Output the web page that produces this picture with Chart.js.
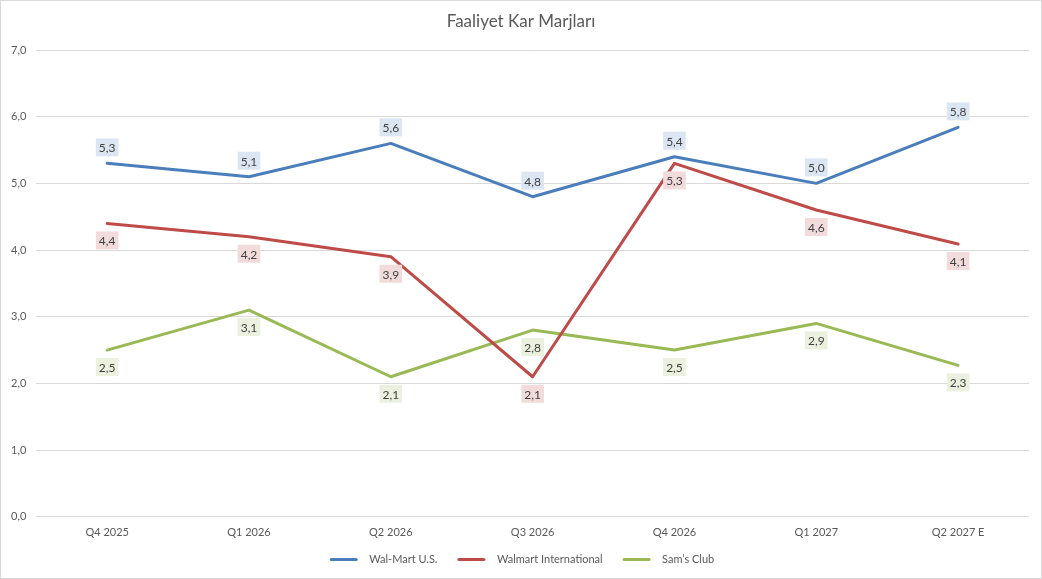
<!DOCTYPE html>
<html>
<head>
<meta charset="utf-8">
<script src="https://cdn.jsdelivr.net/npm/chart.js@4"></script>
<style>
  html, body { margin: 0; padding: 0; background: #fff; }
  #wrap { width: 1040px; height: 577px; border: 1px solid #d9d9d9; position: relative; }
</style>
</head>
<body>
<div id="wrap"><canvas id="chart1"></canvas></div>
<script>
var categories = ['Q4 2025', 'Q1 2026', 'Q2 2026', 'Q3 2026', 'Q4 2026', 'Q1 2027', 'Q2 2027 E'];
var walmartUS = [5.3, 5.1, 5.6, 4.8, 5.4, 5.0, 5.84];
var walmartIntl = [4.4, 4.2, 3.9, 2.1, 5.3, 4.6, 4.09];
var samsClub = [2.5, 3.1, 2.1, 2.8, 2.5, 2.9, 2.27];
var yTicks = [0, 1, 2, 3, 4, 5, 6, 7];
var chartTitle = 'Faaliyet Kar Marjları';

var FONT = 'Lato, "Open Sans", sans-serif';

function comma(v) {
    return v.toFixed(1).replace('.', ',');
}

// title centred on the whole canvas, not on the padded layout box
var centerTitle = {
    id: 'centerTitle',
    afterDraw: function(chart) {
        var ctx = chart.ctx;
        ctx.save();
        ctx.font = '17px ' + FONT;
        ctx.fillStyle = '#595959';
        ctx.textAlign = 'center';
        ctx.textBaseline = 'middle';
        ctx.fillText(chartTitle, chart.width / 2, 21);
        ctx.restore();
    }
};

// value boxes next to each point (above for the first series, below for the rest)
var pointLabels = {
    id: 'pointLabels',
    afterDatasetsDraw: function(chart) {
        var ctx = chart.ctx;
        ctx.save();
        ctx.font = '12px ' + FONT;
        ctx.textAlign = 'center';
        ctx.textBaseline = 'middle';
        chart.data.datasets.forEach(function(ds, i) {
            var meta = chart.getDatasetMeta(i);
            meta.data.forEach(function(pt, j) {
                var text = comma(ds.data[j]);
                var w = ctx.measureText(text).width + 6;
                var h = 18;
                var cy = ds.labelPos === 'above' ? pt.y - 16 : pt.y + 17;
                ctx.fillStyle = ds.labelBg;
                ctx.fillRect(pt.x - w / 2, cy - h / 2, w, h);
                ctx.fillStyle = '#404040';
                ctx.fillText(text, pt.x, cy + 1);
            });
        });
        ctx.restore();
    }
};

// legend swatches: the legend box is left empty and a short line is drawn inside it
var SWATCH_PAD = 14;
var SWATCH_LEN = 28;
var legendLines = {
    id: 'legendLines',
    afterDraw: function(chart) {
        var ctx = chart.ctx;
        var boxes = chart.legend.legendHitBoxes;
        ctx.save();
        ctx.lineWidth = 3;
        ctx.lineCap = 'round';
        chart.data.datasets.forEach(function(ds, i) {
            var hb = boxes[i];
            if (!hb) return;
            var y = hb.top + hb.height / 2;
            ctx.strokeStyle = ds.borderColor;
            ctx.beginPath();
            ctx.moveTo(hb.left + SWATCH_PAD + 1.5, y);
            ctx.lineTo(hb.left + SWATCH_PAD + SWATCH_LEN - 1.5, y);
            ctx.stroke();
        });
        ctx.restore();
    }
};

var ctx1 = document.getElementById('chart1').getContext('2d');
var chart1 = new Chart(ctx1, {
    type: 'line',
    data: {
        labels: categories,
        datasets: [{
            label: 'Wal-Mart U.S.',
            data: walmartUS,
            borderColor: '#4a7ebb',
            backgroundColor: '#4a7ebb',
            labelBg: '#dce6f2',
            labelPos: 'above'
        },
        {
            label: 'Walmart International',
            data: walmartIntl,
            borderColor: '#be4b48',
            backgroundColor: '#be4b48',
            labelBg: '#f2dcdb',
            labelPos: 'below'
        },
        {
            label: 'Sam\u2019s Club',
            data: samsClub,
            borderColor: '#98b954',
            backgroundColor: '#98b954',
            labelBg: '#ebf1de',
            labelPos: 'below'
        }]
    },
    options: {
        responsive: true,
        maintainAspectRatio: false,
        animation: false,
        layout: { padding: { left: 0, right: 12, top: 49, bottom: 3 } },
        elements: {
            line: { borderWidth: 3, tension: 0, borderCapStyle: 'round', borderJoinStyle: 'round' },
            point: { radius: 0, hoverRadius: 0 }
        },
        plugins: {
            title: { display: false },
            legend: {
                position: 'bottom',
                labels: {
                    color: '#595959',
                    font: { family: FONT, size: 11 },
                    boxWidth: SWATCH_PAD + SWATCH_LEN + 6,
                    boxHeight: 3,
                    padding: 6,
                    generateLabels: function(chart) {
                        var items = Chart.defaults.plugins.legend.labels.generateLabels(chart);
                        items.forEach(function(it) {
                            it.lineWidth = 0;
                            it.fillStyle = 'rgba(0,0,0,0)';
                        });
                        return items;
                    }
                }
            },
            tooltip: { enabled: false }
        },
        scales: {
            x: {
                offset: true,
                grid: { display: false, drawTicks: false },
                border: { display: false },
                ticks: {
                    color: '#595959',
                    font: { family: FONT, size: 11 },
                    padding: 9
                }
            },
            y: {
                min: 0,
                max: 7,
                afterBuildTicks: function(axis) {
                    axis.ticks = yTicks.map(function(v) { return { value: v }; });
                },
                grid: { color: '#d9d9d9', lineWidth: 1, drawTicks: false },
                border: { display: false },
                ticks: {
                    color: '#595959',
                    font: { family: FONT, size: 11 },
                    padding: 10,
                    callback: function(value) {
                        return comma(value);
                    }
                }
            }
        }
    },
    plugins: [pointLabels, legendLines, centerTitle]
});
</script>
</body>
</html>
